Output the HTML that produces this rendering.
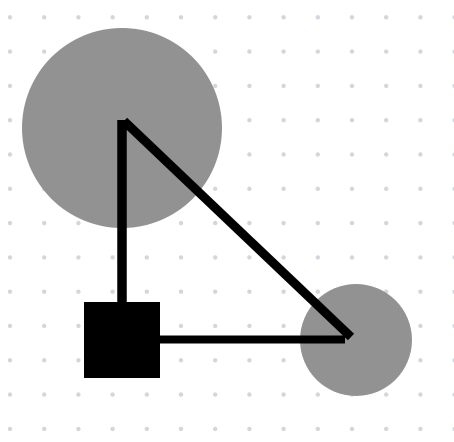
<!DOCTYPE html>
<html><head><meta charset="utf-8"><style>
html,body{margin:0;padding:0;background:#fff;width:454px;height:442px;overflow:hidden}
svg{display:block}
</style></head><body>
<svg id="c" width="454" height="442" xmlns="http://www.w3.org/2000/svg">
<g id="grid"></g>
<circle cx="122" cy="128" r="100" fill="#929292"/>
<circle cx="356" cy="340" r="56" fill="#929292"/>
<line x1="122" y1="120" x2="122" y2="302" stroke="#000" stroke-width="9.5"/>
<line x1="124" y1="121" x2="351" y2="337" stroke="#000" stroke-width="9"/>
<line x1="160" y1="339.5" x2="345" y2="339.5" stroke="#000" stroke-width="8"/>
<rect x="84" y="302" width="76" height="76" fill="#000"/>
</svg>
<script>
const g=document.getElementById('grid');
for(let i=0;i<14;i++){for(let j=0;j<13;j++){
const d=document.createElementNS('http://www.w3.org/2000/svg','circle');
d.setAttribute('cx',10+i*34.2);d.setAttribute('cy',17.3+j*34.3);d.setAttribute('r',2.2);d.setAttribute('fill','#d2d6de');


g.appendChild(d);}}
</script>
</body></html>
